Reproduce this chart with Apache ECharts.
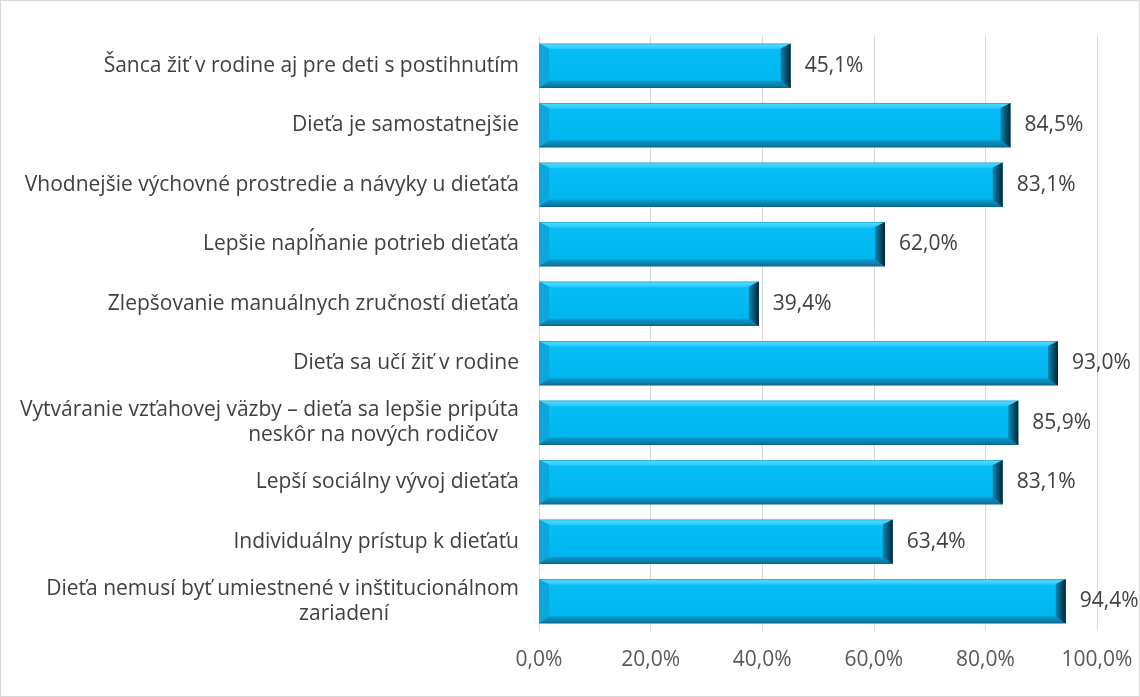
<!DOCTYPE html>
<html>
<head>
<meta charset="utf-8">
<script src="https://cdn.jsdelivr.net/npm/echarts@6/dist/echarts.min.js"></script>
<style>
  html, body { margin: 0; padding: 0; background: #fff; }
  #chart { width: 1140px; height: 697px; box-sizing: border-box; border: 1px solid #d9d9d9; }
</style>
</head>
<body>
<div id="chart"></div>
<script>
// categories top to bottom
const categories = [
  'Šanca žiť v rodine aj pre deti s postihnutím',
  'Dieťa je samostatnejšie',
  'Vhodnejšie výchovné prostredie a návyky u dieťaťa',
  'Lepšie napĺňanie potrieb dieťaťa',
  'Zlepšovanie manuálnych zručností dieťaťa',
  'Dieťa sa učí žiť v rodine',
  'Vytváranie vzťahovej väzby – dieťa sa lepšie pripúta\nneskôr na nových rodičov',
  'Lepší sociálny vývoj dieťaťa',
  'Individuálny prístup k dieťaťu',
  'Dieťa nemusí byť umiestnené v inštitucionálnom\nzariadení'
];
const values = [45.1, 84.5, 83.1, 62.0, 39.4, 93.0, 85.9, 83.1, 63.4, 94.4];
const xTicks = [0, 20, 40, 60, 80, 100];

const FONT = 'Open Sans';
const CAT_SIZE = 21;
const BAR_RATIO = 0.75; // bar thickness / category band
const fmtPct = v => v.toFixed(1).replace('.', ',') + '%';

const chart = echarts.init(document.getElementById('chart'));

// bevel edges drawn on top of each bar (3D look like the original)
function renderBevel(params, api) {
  const v = api.value(0);
  const idx = api.value(1);
  const end = api.coord([v, idx]);
  const start = api.coord([0, idx]);
  const h = api.size([0, 1])[1] * BAR_RATIO;
  const x0 = start[0], x1 = end[0];
  const yt = end[1] - h / 2, yb = end[1] + h / 2;
  const b = 10, bt = 5, bb = 7;
  return {
    type: 'group',
    children: [
      {
        type: 'polygon',
        shape: { points: [[x1 - b, yt + bt], [x1, yt], [x1, yb], [x1 - b, yb - bb]] },
        style: {
          fill: new echarts.graphic.LinearGradient(0, 0, 1, 0, [
            { offset: 0, color: '#0b86b4' },
            { offset: 0.6, color: '#064d69' },
            { offset: 1, color: '#01202c' }
          ])
        }
      },
      {
        type: 'polygon',
        shape: { points: [[x0, yt], [x0 + b, yt + bt], [x0 + b, yb - bb], [x0, yb]] },
        style: { fill: '#0aa6dc' }
      }
    ]
  };
}

const option = {
  animation: false,
  grid: { left: 538, right: 42, top: 35, bottom: 65 },
  xAxis: {
    type: 'value',
    min: xTicks[0],
    max: xTicks[xTicks.length - 1],
    interval: 20,
    axisLine: { show: false },
    axisTick: { show: false },
    splitLine: { lineStyle: { color: '#d9d9d9', width: 1 } },
    axisLabel: {
      formatter: v => fmtPct(v),
      color: '#595959',
      fontFamily: FONT,
      fontSize: 21,
      margin: 19
    }
  },
  yAxis: {
    type: 'category',
    inverse: true,
    data: categories,
    axisLine: { show: false },
    axisTick: { show: false },
    axisLabel: {
      color: '#404040',
      fontFamily: FONT,
      fontSize: CAT_SIZE,
      lineHeight: 25,
      margin: 20,
      align: 'right',
      formatter: function (v) {
        const parts = v.split('\n');
        if (parts.length === 1) return v;
        const pad = parts[1].startsWith('neskôr') ? 'a' : 'b';
        return parts[0] + '\n{' + pad + '|' + parts[1] + '}';
      },
      rich: {
        a: { padding: [0, 21, 0, 0], color: '#404040', fontFamily: FONT, fontSize: CAT_SIZE, lineHeight: 25 },
        b: { padding: [0, 130, 0, 0], color: '#404040', fontFamily: FONT, fontSize: CAT_SIZE, lineHeight: 25 }
      }
    }
  },
  series: [
    {
      type: 'bar',
      data: values,
      barCategoryGap: '25%',
      itemStyle: {
        color: new echarts.graphic.LinearGradient(0, 0, 0, 1, [
          { offset: 0, color: '#1896c4' },
          { offset: 0.03, color: '#4ad8ff' },
          { offset: 0.11, color: '#2ccdff' },
          { offset: 0.14, color: '#06bdf5' },
          { offset: 0.82, color: '#00b6ef' },
          { offset: 0.86, color: '#0a93c4' },
          { offset: 0.96, color: '#0a7aa5' },
          { offset: 1, color: '#0b5f80' }
        ])
      },
      label: {
        show: true,
        position: 'right',
        distance: 14,
        formatter: p => fmtPct(p.value),
        color: '#404040',
        fontFamily: FONT,
        fontSize: 21
      }
    },
    {
      type: 'custom',
      renderItem: renderBevel,
      encode: { x: 0, y: 1 },
      data: values.map((v, i) => [v, i]),
      silent: true,
      z: 3
    }
  ]
};

chart.setOption(option);
</script>
</body>
</html>
